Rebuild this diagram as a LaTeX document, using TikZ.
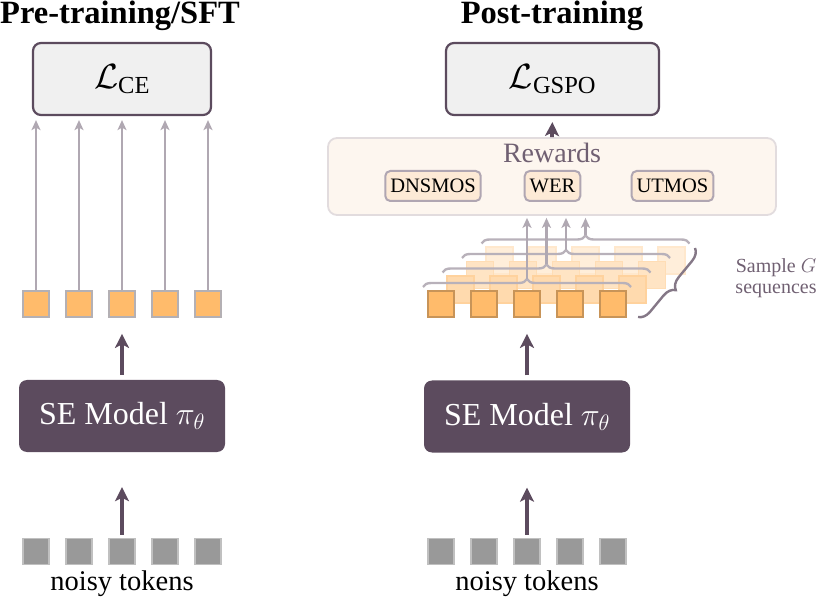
\RequirePackage{fix-cm}
\documentclass[tikz,border=0pt]{standalone}
\usepackage{amsmath}
\usepackage{fontspec}
\setmainfont{Liberation Serif}
\usetikzlibrary{arrows.meta, positioning, decorations.pathreplacing}
\definecolor{sepurple}{RGB}{92, 75, 94}
\definecolor{lossgray}{RGB}{240, 240, 240}
\definecolor{flowgray}{RGB}{176, 168, 178}
\definecolor{tokorange}{RGB}{255, 187, 107}
\definecolor{tokedge}{RGB}{200, 148, 88}
\definecolor{tokgray}{RGB}{180, 176, 180}
\definecolor{noisegray}{RGB}{153, 153, 153}
\definecolor{noiseedge}{RGB}{192, 192, 192}
\definecolor{rewardbg}{RGB}{253, 246, 239}
\definecolor{rewardedge}{RGB}{226, 220, 222}
\definecolor{metricbg}{RGB}{253, 234, 214}
\definecolor{metricedge}{RGB}{176, 166, 178}
\definecolor{notepurple}{RGB}{112, 96, 114}
\tikzset{
  heading/.style={font=\fontsize{32.5}{36}\selectfont\bfseries, anchor=base},
  lossbox/.style={rectangle, rounded corners=8pt, draw=sepurple, line width=2.2pt, fill=lossgray,
                  minimum width=#1, minimum height=72pt, font=\fontsize{35}{40}\selectfont},
  lossbox/.default=178pt,
  modelbox/.style={rectangle, rounded corners=8pt, fill=sepurple, text=white,
                   minimum width=206pt, minimum height=72pt, font=\fontsize{32}{36}\selectfont},
  outtok/.style={rectangle, draw=tokgray, line width=1.8pt, fill=tokorange, minimum size=26pt, inner sep=0pt},
  sampletok/.style={rectangle, draw=tokedge, line width=1.8pt, fill=tokorange, minimum size=26pt, inner sep=0pt},
  fadedtok/.style 2 args={rectangle, draw=tokorange!#2, line width=1.2pt, fill=tokorange!#1,
                          minimum size=27pt, inner sep=0pt},
  noisetok/.style={rectangle, draw=noiseedge, line width=1.8pt, fill=noisegray, minimum size=26pt, inner sep=0pt},
  toklabel/.style={font=\fontsize{28.5}{32}\selectfont, anchor=base},
  rewardbox/.style={rectangle, rounded corners=9pt, draw=rewardedge, line width=1.8pt, fill=rewardbg,
                    minimum width=448pt, minimum height=77pt},
  metricbox/.style={rectangle, rounded corners=5pt, draw=metricedge, line width=2pt, fill=metricbg,
                    minimum height=30pt, inner xsep=5pt, font=\fontsize{20.5}{24}\selectfont},
  notetext/.style={font=\fontsize{20}{22}\selectfont, text=notepurple, anchor=base},
  thinarrow/.style={-{Stealth[length=10pt, width=9pt, inset=2.5pt]}, line width=2.6pt, color=flowgray},
  thickarrow/.style={-{Stealth[length=14pt, width=14pt, inset=3.5pt]}, line width=3.8pt, color=sepurple},
  seqbrace/.style={decorate, decoration={brace, amplitude=8pt}, line width=2.4pt, color=flowgray!90},
  groupbrace/.style={decorate, decoration={brace, amplitude=12pt}, line width=2.4pt, color=notepurple!85},
}

\begin{document}
\begin{tikzpicture}[x=1pt, y=-1pt]
  \useasboundingbox (0,0) rectangle (822,601);

  % pre-training / SFT
  \node[heading] (pretitle) at (120,24) {Pre-training/SFT};
  \node[lossbox] (ce) at (122,79) {$\mathcal{L}_{\mathrm{CE}}$};
  \foreach \i [evaluate=\i as \x using 36+43*(\i-1)] in {1,...,5} {
    \node[outtok] (ltok\i) at (\x,304) {};
    \node[noisetok] (lnoise\i) at (\x,551.5) {};
    \draw[thinarrow, shorten >=4pt] (ltok\i.north) -- (ltok\i |- ce.south);
  }
  \node[modelbox] (seL) at (122,416) {SE Model $\pi_\theta$};
  \node[toklabel] (lnoisy) at (122,590) {noisy tokens};
  \draw[thickarrow, shorten <=3pt, shorten >=35pt] (lnoise3.north) -- (seL.south);
  \draw[thickarrow, shorten <=5pt, shorten >=16pt] (seL.north) -- (ltok3.south);

  % post-training
  \node[heading] (posttitle) at (552,24) {Post-training};
  \node[lossbox=213pt] (gspo) at (552.5,79) {$\mathcal{L}_{\mathrm{GSPO}}$};
  \node[rewardbox] (rewards) at (552,176.5) {};
  \node[font=\fontsize{28}{32}\selectfont, text=notepurple, anchor=base] (rewlabel) at (552,163) {Rewards};
  \node[metricbox] (dnsmos) at (433,186) {DNSMOS};
  \node[metricbox] (wer) at (552.5,186) {WER};
  \node[metricbox] (utmos) at (672.5,186) {UTMOS};
  \draw[thickarrow, shorten >=6pt] (rewards.north) -- (gspo.south);

  \foreach \k/\shade/\edge in {3/25/34, 2/40/50, 1/55/66} {
    \foreach \i [evaluate=\i as \x using 441+43*(\i-1)+19.5*\k] in {1,...,5} {
      \node[fadedtok={\shade}{\edge}] (s\k-\i) at (\x,{304-14.5*\k}) {};
    }
  }
  \foreach \k [evaluate=\k as \dx using 19.5*\k, evaluate=\k as \dy using 14.5*\k] in {0,...,3} {
    \coordinate (bl\k) at (423+\dx,287-\dy);
    \coordinate (br\k) at (631+\dx,287-\dy);
    \coordinate (tip\k) at (527+\dx,279-\dy);
    \draw[seqbrace] (bl\k) -- (br\k);
  }
  \foreach \k in {0,...,3}
    \draw[thinarrow, shorten >=2pt] (tip\k) -- (tip\k |- rewards.south);
  \foreach \i [evaluate=\i as \x using 441+43*(\i-1)] in {1,...,5} {
    \node[sampletok] (rtok\i) at (\x,304) {};
    \node[noisetok] (rnoise\i) at (\x,551.5) {};
  }
  \coordinate (grouptop) at (695,248);
  \coordinate (groupbot) at (638,317);
  \draw[groupbrace] (grouptop) -- (groupbot);
  \node[notetext] (samplelab) at (776,273) {Sample $G$};
  \node[notetext] (seqlab) at (776,294) {sequences};

  \node[modelbox] (seR) at (527,416.5) {SE Model $\pi_\theta$};
  \node[toklabel] (rnoisy) at (527,590) {noisy tokens};
  \draw[thickarrow, shorten <=3pt, shorten >=35pt] (rnoise3.north) -- (seR.south);
  \draw[thickarrow, shorten <=5pt, shorten >=16pt] (seR.north) -- (rtok3.south);
\end{tikzpicture}
\end{document}
